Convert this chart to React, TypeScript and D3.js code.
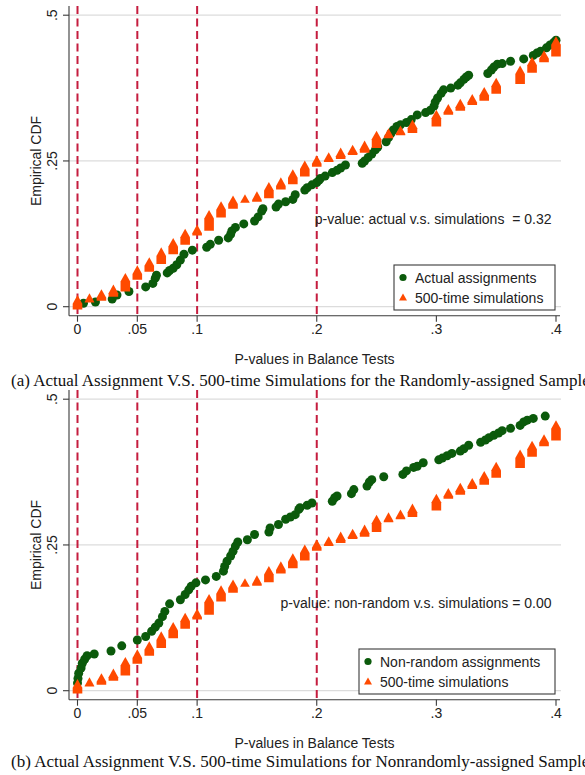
import React from "react";
import * as d3 from "d3";

// Tick positions and labels
const xTicks = [0, 0.05, 0.1, 0.2, 0.3, 0.4];
const xTickLabels = ["0", ".05", ".1", ".2", ".3", ".4"];
const yTicks = [0, 0.25, 0.5];
const yTickLabels = ["0", ".25", ".5"];
// Significance cut-offs marked with dashed vertical lines
const cutoffs = [0, 0.05, 0.1, 0.2];

// 500-time simulations: p-value bins with the lowest and highest empirical CDF in each bin
const simP = [0, 0.01, 0.02, 0.03, 0.04, 0.05, 0.06, 0.07, 0.08, 0.09, 0.1, 0.11, 0.12, 0.13, 0.14, 0.15, 0.16, 0.17, 0.18, 0.19, 0.2, 0.21, 0.22, 0.23, 0.24, 0.25, 0.26, 0.27, 0.28, 0.3, 0.31, 0.32, 0.33, 0.34, 0.35, 0.37, 0.38, 0.39, 0.4];
const simLow = [0.002, 0.014, 0.017, 0.024, 0.033, 0.053, 0.067, 0.08, 0.097, 0.113, 0.129, 0.137, 0.16, 0.175, 0.185, 0.187, 0.193, 0.208, 0.217, 0.23, 0.247, 0.255, 0.26, 0.267, 0.271, 0.279, 0.296, 0.301, 0.305, 0.316, 0.336, 0.343, 0.353, 0.36, 0.372, 0.389, 0.408, 0.426, 0.436];
const simHigh = [0.012, 0.015, 0.022, 0.03, 0.05, 0.063, 0.077, 0.094, 0.11, 0.126, 0.133, 0.158, 0.173, 0.183, 0.185, 0.19, 0.206, 0.214, 0.228, 0.243, 0.252, 0.257, 0.265, 0.27, 0.277, 0.294, 0.298, 0.303, 0.313, 0.33, 0.34, 0.349, 0.357, 0.369, 0.385, 0.406, 0.421, 0.432, 0.456];

// Actual assignments (randomly-assigned sample)
const actualP = [0.005, 0.015, 0.029, 0.033, 0.043, 0.057, 0.063, 0.065, 0.066, 0.075, 0.077, 0.08, 0.083, 0.086, 0.089, 0.096, 0.108, 0.111, 0.118, 0.126, 0.128, 0.129, 0.132, 0.139, 0.148, 0.151, 0.154, 0.155, 0.166, 0.168, 0.174, 0.18, 0.182, 0.19, 0.192, 0.196, 0.2, 0.202, 0.203, 0.207, 0.213, 0.217, 0.22, 0.224, 0.238, 0.24, 0.243, 0.246, 0.249, 0.251, 0.258, 0.26, 0.262, 0.264, 0.267, 0.27, 0.275, 0.279, 0.284, 0.291, 0.295, 0.298, 0.299, 0.301, 0.304, 0.306, 0.312, 0.318, 0.32, 0.323, 0.325, 0.327, 0.343, 0.346, 0.348, 0.351, 0.355, 0.362, 0.373, 0.381, 0.384, 0.387, 0.392, 0.395, 0.398, 0.4];
const actualCdf = [0.006, 0.008, 0.013, 0.02, 0.026, 0.034, 0.04, 0.049, 0.054, 0.058, 0.062, 0.066, 0.072, 0.08, 0.09, 0.097, 0.102, 0.107, 0.114, 0.118, 0.124, 0.13, 0.136, 0.142, 0.147, 0.154, 0.164, 0.168, 0.171, 0.176, 0.18, 0.184, 0.192, 0.2, 0.204, 0.209, 0.213, 0.217, 0.22, 0.224, 0.23, 0.234, 0.238, 0.243, 0.246, 0.25, 0.256, 0.262, 0.269, 0.274, 0.283, 0.29, 0.297, 0.303, 0.309, 0.312, 0.316, 0.321, 0.329, 0.333, 0.337, 0.344, 0.351, 0.358, 0.366, 0.372, 0.375, 0.38, 0.384, 0.39, 0.394, 0.397, 0.4, 0.406, 0.411, 0.416, 0.417, 0.421, 0.425, 0.431, 0.435, 0.438, 0.444, 0.449, 0.453, 0.457];

// Non-random assignments
const nonRandomP = [0, 0.0004, 0.001, 0.003, 0.004, 0.006, 0.008, 0.014, 0.028, 0.037, 0.05, 0.057, 0.062, 0.065, 0.068, 0.071, 0.073, 0.077, 0.086, 0.09, 0.093, 0.095, 0.099, 0.107, 0.116, 0.122, 0.123, 0.125, 0.128, 0.13, 0.132, 0.134, 0.142, 0.148, 0.16, 0.161, 0.168, 0.174, 0.178, 0.182, 0.185, 0.186, 0.192, 0.196, 0.213, 0.215, 0.217, 0.229, 0.231, 0.242, 0.244, 0.246, 0.256, 0.272, 0.275, 0.281, 0.284, 0.289, 0.302, 0.305, 0.309, 0.313, 0.32, 0.323, 0.327, 0.337, 0.341, 0.344, 0.348, 0.352, 0.355, 0.362, 0.37, 0.373, 0.376, 0.381, 0.391];
const nonRandomCdf = [0.013, 0.021, 0.03, 0.039, 0.047, 0.054, 0.06, 0.063, 0.068, 0.077, 0.087, 0.093, 0.102, 0.109, 0.116, 0.127, 0.136, 0.149, 0.156, 0.165, 0.173, 0.179, 0.185, 0.19, 0.196, 0.205, 0.213, 0.222, 0.231, 0.239, 0.248, 0.255, 0.259, 0.268, 0.272, 0.279, 0.285, 0.294, 0.298, 0.302, 0.311, 0.314, 0.318, 0.322, 0.325, 0.331, 0.334, 0.338, 0.345, 0.351, 0.358, 0.362, 0.367, 0.371, 0.377, 0.383, 0.385, 0.391, 0.396, 0.399, 0.403, 0.407, 0.411, 0.415, 0.421, 0.426, 0.43, 0.434, 0.438, 0.442, 0.446, 0.45, 0.455, 0.461, 0.464, 0.467, 0.471];

const GREEN = "#0b5a0b";
const ORANGE = "#ff4a00";
const CRANBERRY = "#c51d3f";
const AXIS = "#3a3a3a";
const GRID = "#dcdcdc";
const SANS = "'Liberation Sans', Arial, sans-serif";
const SERIF = "'Liberation Serif', 'Times New Roman', serif";

const FRAME = { left: 69, right: 560, top: 6, bottom: 315.7 };

const xScale = d3.scaleLinear().domain([0, 0.4]).range([77.5, 556]);

type PanelProps = {
  dy: number;
  pts: number[];
  cdf: number[];
  seriesLabel: string;
  note: string;
  caption: string;
  legendX: number;
};

// Union of stacked triangle markers from the low to the high CDF value in a bin
function stackPath(cx: number, yLow: number, yHigh: number) {
  const hw = 4.8;
  const up = 4.6;
  const down = 4.0;
  const p = d3.path();
  p.moveTo(cx - hw, yLow + down);
  p.lineTo(cx + hw, yLow + down);
  p.lineTo(cx + hw, yHigh + down);
  p.lineTo(cx, yHigh - up);
  p.lineTo(cx - hw, yHigh + down);
  p.closePath();
  return p.toString();
}

function Panel({ dy, pts, cdf, seriesLabel, note, caption, legendX }: PanelProps) {
  const y = d3.scaleLinear().domain([0, 0.5]).range([306.7 + dy, 15.2 + dy]);
  const top = FRAME.top + dy;
  const bottom = FRAME.bottom + dy;
  const legendTop = 265 + dy;
  const legendBottom = 310 + dy;
  const markerX = legendX + 9;
  const textX = legendX + 21;
  const row1 = legendTop + 13;
  const row2 = legendTop + 32.5;
  return (
    <g>
      {/* horizontal grid */}
      {yTicks.map((t) => (
        <line key={"g" + t} x1={FRAME.left} x2={FRAME.right + 1} y1={y(t)} y2={y(t)} stroke={GRID} strokeWidth={1.2} />
      ))}
      {/* cut-off lines */}
      {cutoffs.map((c) => (
        <line key={"c" + c} x1={xScale(c)} x2={xScale(c)} y1={top} y2={bottom} stroke={CRANBERRY} strokeWidth={2} strokeDasharray="8,4.5" />
      ))}
      {/* assignment series */}
      {pts.map((p, i) => (
        <circle key={"a" + i} cx={xScale(p)} cy={y(cdf[i])} r={4.5} fill={GREEN} />
      ))}
      {/* simulation series */}
      {simP.map((p, i) => (
        <path key={"s" + i} d={stackPath(xScale(p), y(simLow[i]), y(simHigh[i]))} fill={ORANGE} />
      ))}
      {/* axes */}
      <line x1={FRAME.left} x2={FRAME.left} y1={top} y2={bottom} stroke={AXIS} strokeWidth={1.1} />
      <line x1={FRAME.left} x2={FRAME.right} y1={bottom} y2={bottom} stroke={AXIS} strokeWidth={1.1} />
      {yTicks.map((t, i) => (
        <g key={"yt" + t}>
          <line x1={FRAME.left - 6} x2={FRAME.left} y1={y(t)} y2={y(t)} stroke={AXIS} strokeWidth={1.1} />
          <text transform={`translate(57,${y(t)}) rotate(-90)`} textAnchor="middle" fontFamily={SANS} fontSize={14} fill="#222">
            {yTickLabels[i]}
          </text>
        </g>
      ))}
      {xTicks.map((t, i) => (
        <g key={"xt" + t}>
          <line x1={xScale(t)} x2={xScale(t)} y1={bottom} y2={bottom + 6} stroke={AXIS} strokeWidth={1.1} />
          <text x={xScale(t)} y={334 + dy} textAnchor="middle" fontFamily={SANS} fontSize={14} fill="#222">
            {xTickLabels[i]}
          </text>
        </g>
      ))}
      <text transform={`translate(40.5,${161 + dy}) rotate(-90)`} textAnchor="middle" fontFamily={SANS} fontSize={14} fill="#222">
        Empirical CDF
      </text>
      <text x={314.5} y={364 + dy} textAnchor="middle" fontFamily={SANS} fontSize={14} fill="#222">
        P-values in Balance Tests
      </text>
      <text x={551.5} y={224 + dy} textAnchor="end" fontFamily={SANS} fontSize={14} fill="#222" style={{ whiteSpace: "pre" }}>
        {note}
      </text>
      {/* legend */}
      <rect x={legendX} y={legendTop} width={555 - legendX} height={legendBottom - legendTop} fill="#fff" stroke={AXIS} strokeWidth={1.1} />
      <circle cx={markerX} cy={row1 - 0.5} r={3.6} fill={GREEN} />
      <path d={`M${markerX - 4},${row2 + 3} L${markerX + 4},${row2 + 3} L${markerX},${row2 - 4} Z`} fill={ORANGE} />
      <text x={textX} y={row1 + 5} fontFamily={SANS} fontSize={14} fill="#222">
        {seriesLabel}
      </text>
      <text x={textX} y={row2 + 5.5} fontFamily={SANS} fontSize={14} fill="#222">
        500-time simulations
      </text>
      <text x={11} y={dy === 0 ? 386 : 767} fontFamily={SERIF} fontSize={17} fill="#111">
        {caption}
      </text>
    </g>
  );
}

export default function App() {
  return (
    <svg width={585} height={775} style={{ position: "absolute", left: 0, top: 0, background: "#fff" }}>
      <rect width={585} height={775} fill="#fff" />
      <Panel
        dy={0}
        pts={actualP}
        cdf={actualCdf}
        seriesLabel="Actual assignments"
        note="p-value: actual v.s. simulations  = 0.32"
        caption="(a) Actual Assignment V.S. 500-time Simulations for the Randomly-assigned Sample"
        legendX={394}
      />
      <Panel
        dy={384}
        pts={nonRandomP}
        cdf={nonRandomCdf}
        seriesLabel="Non-random assignments"
        note="p-value: non-random v.s. simulations = 0.00"
        caption="(b) Actual Assignment V.S. 500-time Simulations for Nonrandomly-assigned Sample"
        legendX={359}
      />
    </svg>
  );
}
